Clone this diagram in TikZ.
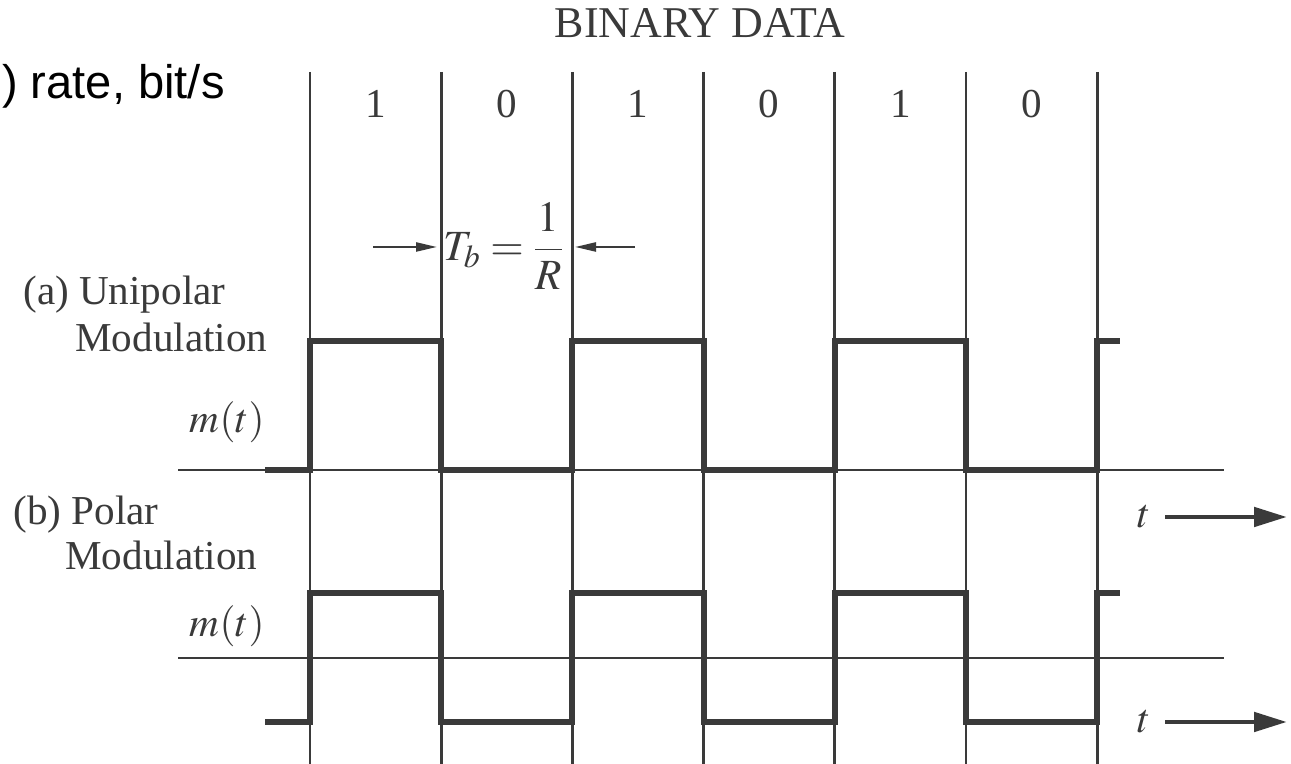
\documentclass[tikz,border=0pt]{standalone}
\usepackage{mathptmx}
\usepackage[no-math]{fontspec}
\setmainfont{Liberation Serif}
\newfontfamily\arialfont{Liberation Sans}
\usetikzlibrary{arrows.meta}
\definecolor{ink}{RGB}{58,58,58}
\newcommand{\figfont}{\fontsize{23.4}{27}\selectfont}
\def\Tb{2.624}
\tikzset{
  divline/.style={ink, line width=1.5pt},
  axisline/.style={ink, line width=1.4pt},
  wave/.style={ink, line width=3.4pt, line join=miter},
  lbl/.style={text=ink, inner sep=0pt, font=\figfont},
  tarrow/.style={ink, line width=2.8pt, -{Triangle[length=0.66cm,width=0.38cm]}},
  tbarrow/.style={ink, line width=1.3pt, -{Triangle[length=0.42cm,width=0.18cm]}}
}
\begin{document}
\begin{tikzpicture}
\useasboundingbox (0,0) rectangle (25.82,15.28);
% bit cells
\foreach \i in {0,...,6} {
 \draw[divline] ({6.2+\i*\Tb},13.84) -- ({6.2+\i*\Tb},0);
}
\foreach \b [count=\i from 0] in {1,0,1,0,1,0} {
 \node[lbl, anchor=base] (bit\i) at ({6.2+(\i+0.5)*\Tb},12.92) {\b};
}
\node[lbl, anchor=base, font=\fontsize{25}{28}\selectfont] (title) at (14.0,14.52) {BINARY DATA};
\node[anchor=base east, inner sep=0pt, font=\arialfont\fontsize{26.8}{30}\selectfont] (rate) at (4.5,13.3) {) rate, bit/s};
% bit period
\node[lbl, font=\fontsize{24.5}{28}\selectfont] (tb) at (10.07,10.36) {$\displaystyle T_b=\frac{1}{R}$};
\coordinate (tbL) at (7.46,10.34);
\coordinate (tbR) at (12.7,10.34);
\draw[tbarrow] (tbL) -- (8.74,10.34);
\draw[tbarrow] (tbR) -- (11.5,10.34);
% (a) unipolar
\node[lbl, anchor=base west] (uni) at (0.46,9.18) {(a) Unipolar};
\node[lbl, anchor=base west] (unimod) at (1.5,8.24) {Modulation};
\node[lbl, anchor=base east] (unim) at (5.3,6.62) {$m(t)$};
\draw[axisline] (3.56,5.88) -- (24.48,5.88);
\draw[wave] (5.3,5.88) \foreach \i in {0,2,4} {
  -- ({6.2+\i*\Tb},5.88) -- ({6.2+\i*\Tb},8.46) -- ({6.2+(\i+1)*\Tb},8.46) -- ({6.2+(\i+1)*\Tb},5.88)
 } -- (21.944,5.88) -- (21.944,8.46) -- (22.4,8.46);
\node[lbl] (unit) at (22.88,4.94) {$t$};
\coordinate (unitend) at (25.74,4.94);
\draw[tarrow] (23.3,4.94) -- (unitend);
% (b) polar
\node[lbl, anchor=base west] (pol) at (0.26,4.78) {(b) Polar};
\node[lbl, anchor=base west] (polmod) at (1.3,3.88) {Modulation};
\node[lbl, anchor=base east] (polm) at (5.3,2.54) {$m(t)$};
\draw[axisline] (3.56,2.12) -- (24.48,2.12);
\draw[wave] (5.3,0.84) \foreach \i in {0,2,4} {
  -- ({6.2+\i*\Tb},0.84) -- ({6.2+\i*\Tb},3.42) -- ({6.2+(\i+1)*\Tb},3.42) -- ({6.2+(\i+1)*\Tb},0.84)
 } -- (21.944,0.84) -- (21.944,3.42) -- (22.4,3.42);
\node[lbl] (polt) at (22.88,0.84) {$t$};
\coordinate (poltend) at (25.74,0.84);
\draw[tarrow] (23.3,0.84) -- (poltend);
\end{tikzpicture}
\end{document}
